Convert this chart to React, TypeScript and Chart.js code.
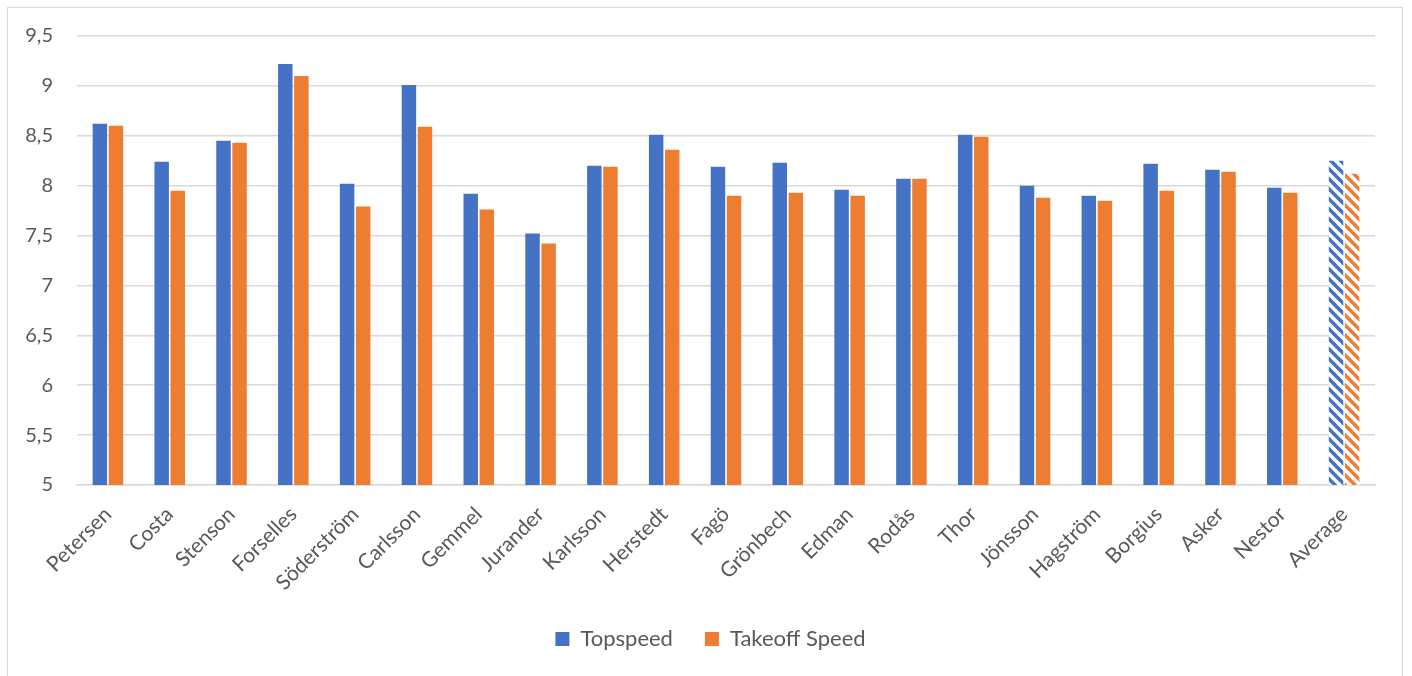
import React, { useEffect, useRef } from "react";
import { Chart, registerables } from "chart.js";

Chart.register(...registerables);

const categories = [
  "Petersen", "Costa", "Stenson", "Forselles", "Söderström", "Carlsson", "Gemmel",
  "Jurander", "Karlsson", "Herstedt", "Fagö", "Grönbech", "Edman", "Rodås", "Thor",
  "Jönsson", "Hagström", "Borgius", "Asker", "Nestor", "Average",
];

const topspeed = [
  8.62, 8.24, 8.45, 9.22, 8.02, 9.01, 7.92, 7.52, 8.2, 8.51, 8.19, 8.23, 7.96, 8.07,
  8.51, 8.0, 7.9, 8.22, 8.16, 7.98, 8.25,
];

const takeoffSpeed = [
  8.6, 7.95, 8.43, 9.1, 7.79, 8.59, 7.76, 7.42, 8.19, 8.36, 7.9, 7.93, 7.9, 8.07,
  8.49, 7.88, 7.85, 7.95, 8.14, 7.93, 8.12,
];

const yMin = 5;
const yMax = 9.5;
const yStep = 0.5;

const BLUE = "#4472C4";
const ORANGE = "#ED7D31";
const TEXT = "#595959";
const GRID = "#d9d9d9";
const FONT = "Lato";

function makePattern(color: string): CanvasPattern | string {
  const s = 10;
  const c = document.createElement("canvas");
  c.width = s;
  c.height = s;
  const g = c.getContext("2d");
  if (!g) return color;
  g.fillStyle = "#ffffff";
  g.fillRect(0, 0, s, s);
  g.strokeStyle = color;
  g.lineWidth = 3.6;
  for (let k = -1; k <= 1; k++) {
    g.beginPath();
    g.moveTo(-1, k * s - 1);
    g.lineTo(s + 1, s + k * s + 1);
    g.stroke();
  }
  return g.createPattern(c, "repeat") || color;
}

export default function App() {
  const ref = useRef<HTMLCanvasElement>(null);

  useEffect(() => {
    if (!ref.current) return;
    const n = categories.length;
    const bluePat = makePattern(BLUE);
    const orangePat = makePattern(ORANGE);

    const chart = new Chart(ref.current, {
      type: "bar",
      data: {
        labels: categories,
        datasets: [
          {
            label: "Topspeed",
            data: topspeed,
            backgroundColor: (ctx: any) =>
              ctx.type === "data" && ctx.dataIndex === n - 1 ? bluePat : BLUE,
            categoryPercentage: 0.52,
            barPercentage: 0.9,
          },
          {
            label: "Takeoff Speed",
            data: takeoffSpeed,
            backgroundColor: (ctx: any) =>
              ctx.type === "data" && ctx.dataIndex === n - 1 ? orangePat : ORANGE,
            categoryPercentage: 0.52,
            barPercentage: 0.9,
          },
        ],
      },
      options: {
        animation: false,
        responsive: false,
        maintainAspectRatio: false,
        layout: { padding: { left: 11, right: 0, top: 28, bottom: 16 } },
        plugins: {
          tooltip: { enabled: false },
          legend: {
            position: "bottom",
            labels: {
              boxWidth: 14,
              boxHeight: 14,
              padding: 32,
              color: TEXT,
              font: { family: FONT, size: 22 },
            },
          },
        },
        scales: {
          x: {
            grid: { display: false, drawTicks: false },
            border: { display: true, color: GRID, width: 1.5 },
            ticks: {
              autoSkip: false,
              maxRotation: 45,
              minRotation: 45,
              padding: 17,
              color: TEXT,
              font: { family: FONT, size: 21 },
            },
            afterFit: (scale: any) => {
              scale.height = 111;
            },
          },
          y: {
            min: yMin,
            max: yMax,
            grid: {
              color: GRID,
              lineWidth: 1.5,
              drawTicks: true,
              tickLength: 24,
              tickColor: "rgba(0,0,0,0)",
            },
            border: { display: false },
            ticks: {
              stepSize: yStep,
              padding: 0,
              color: TEXT,
              font: { family: FONT, size: 20 },
              callback: (v: any) => String(v).replace(".", ","),
            },
            afterFit: (scale: any) => {
              scale.width = 58;
            },
          },
          yRight: {
            type: "linear",
            position: "right",
            display: true,
            grid: { display: false, drawTicks: false },
            border: { display: false },
            ticks: { display: false },
            afterFit: (scale: any) => {
              scale.width = 27;
            },
          },
        },
      },
    } as any);

    return () => {
      chart.destroy();
    };
  }, []);

  return (
    <div
      style={{
        position: "fixed",
        left: 7,
        top: 7,
        width: 1396,
        height: 670,
        border: `1px solid ${GRID}`,
        boxSizing: "border-box",
        background: "#ffffff",
      }}
    >
      <canvas
        ref={ref}
        width={1394}
        height={668}
        style={{ display: "block", width: 1394, height: 668 }}
      />
    </div>
  );
}
